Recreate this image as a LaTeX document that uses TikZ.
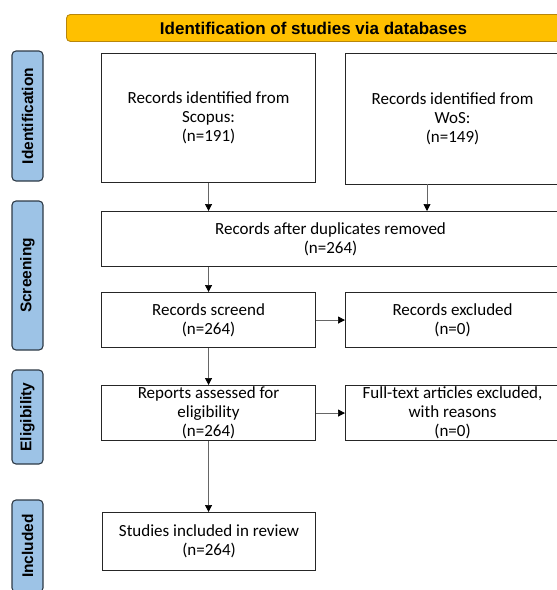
\documentclass[tikz,border=0pt]{standalone}
\usepackage{fontspec}
\setmainfont{Carlito}
\newfontfamily\arialb{Liberation Sans}[BoldFont={Liberation Sans Bold}]
\usetikzlibrary{arrows.meta}
\definecolor{hdrfill}{HTML}{FFC000}
\definecolor{hdrdraw}{HTML}{B8860B}
\definecolor{phfill}{HTML}{9DC3E6}
\definecolor{phdraw}{HTML}{2E3A46}
\tikzset{
  box/.style={draw=black!85, line width=1.1pt, fill=white, anchor=north west, inner sep=0pt, align=center,
    font=\fontsize{17}{19}\selectfont, minimum height=55pt, minimum width=214pt},
  phase/.style={draw=phdraw, line width=1.1pt, fill=phfill, rounded corners=4pt, rotate=90, inner sep=0pt,
    minimum height=31pt, font=\arialb\bfseries\fontsize{15.5}{17}\selectfont},
  conn/.style={draw=black!60, line width=0.7pt, -{Triangle[length=7pt,width=7pt,color=black]}},
}
\begin{document}
\begin{tikzpicture}[x=1pt,y=-1pt]
\useasboundingbox (0,0) rectangle (557,590);
\clip (0,0) rectangle (557,590);
% header
\node[draw=hdrdraw, line width=0.9pt, fill=hdrfill, rounded corners=4pt, anchor=north west, minimum width=494pt, minimum height=27pt, inner sep=0pt, font=\arialb\bfseries\fontsize{17}{19}\selectfont] (hdr) at (66,14) {Identification of studies via databases};
% phases
\node[phase, minimum width=130pt] (pid) at (27.5,116) {Identification};
\node[phase, minimum width=149pt] (psc) at (27.5,275.5) {Screening};
\node[phase, minimum width=94pt] (pel) at (27.5,417) {Eligibility};
\node[phase, minimum width=92pt] (pin) at (27.5,546) {Included};
% boxes
\node[box, minimum height=129pt] (scopus) at (101,53) {Records identified from\\Scopus:\\(n=191)};
\node[box, minimum height=131pt] (wos) at (345,53) {Records identified from\\WoS:\\(n=149)};
\node[box, minimum width=458pt] (dup) at (101,211) {Records after duplicates removed\\(n=264)};
\node[box] (scr) at (101,292) {Records screend\\(n=264)};
\node[box] (exc) at (345,292) {Records excluded\\(n=0)};
\node[box] (rep) at (101,385) {Reports assessed for\\eligibility\\(n=264)};
\node[box] (ful) at (345,385) {Full-text articles excluded,\\with reasons\\(n=0)};
\node[box, minimum width=213pt, minimum height=58pt] (stu) at (102,512) {Studies included in review\\(n=264)};
% connectors
\draw[conn] (scopus.south) -- (scopus.south |- dup.north);
\coordinate (wosout) at (427,184);
\draw[conn] (wosout) -- (wosout |- dup.north);
\draw[conn] (scopus.south |- dup.south) -- (scopus.south |- scr.north);
\draw[conn] (scr.east) -- (exc.west);
\draw[conn] (scr.south) -- (rep.north);
\draw[conn] (rep.east) -- (ful.west);
\draw[conn] (rep.south) -- (rep.south |- stu.north);
\end{tikzpicture}
\end{document}
